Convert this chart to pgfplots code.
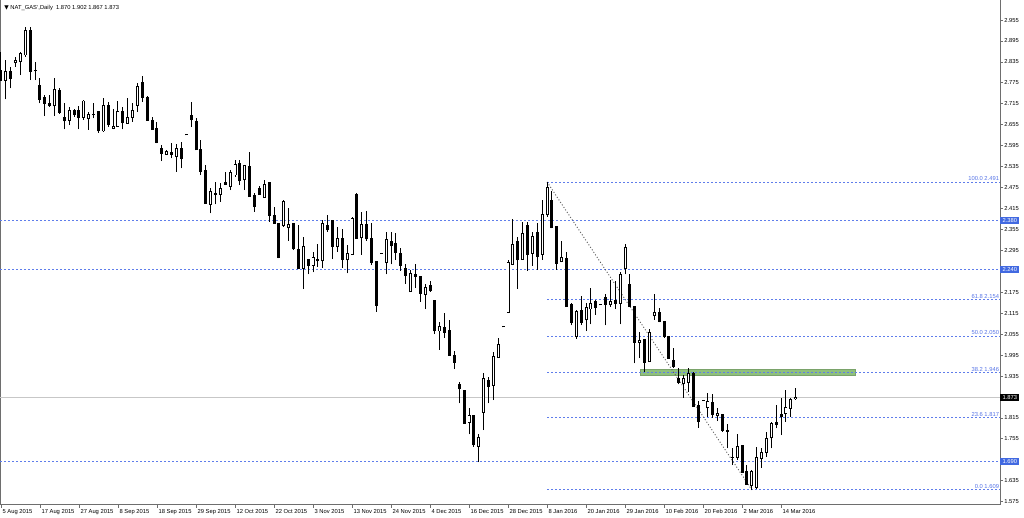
\documentclass[border=0pt]{standalone}
\usepackage{fontspec}
\setmainfont{Liberation Sans}
\newfontfamily\dejavu{DejaVu Sans}
\usepackage{pgfplots}
\usepackage{pgfplotstable}
\pgfplotsset{compat=1.18}

\definecolor{lvl}{RGB}{95,125,235}
\definecolor{fibtxt}{RGB}{85,115,230}
\definecolor{lvlbox}{RGB}{65,105,225}
\definecolor{zone}{RGB}{143,192,125}
\definecolor{frame}{RGB}{110,110,110}
\newcommand\mtfont{\fontsize{2.9}{3.2}\selectfont}

% daily candles: bar index, open, high, low, close
\pgfplotstableread{
i O H L C
0 2.812 2.864 2.780 2.783
1 2.783 2.840 2.728 2.807
2 2.807 2.821 2.759 2.788
3 2.833 2.850 2.821 2.838
4 2.836 2.864 2.797 2.859
5 2.855 2.936 2.850 2.926
6 2.926 2.936 2.783 2.807
7 2.812 2.836 2.783 2.809
8 2.769 2.788 2.716 2.728
9 2.732 2.740 2.680 2.716
10 2.716 2.740 2.707 2.710
11 2.709 2.788 2.680 2.756
12 2.754 2.759 2.686 2.690
13 2.676 2.716 2.642 2.666
14 2.668 2.707 2.654 2.695
15 2.695 2.699 2.678 2.685
16 2.695 2.709 2.642 2.675
17 2.676 2.726 2.670 2.723
18 2.673 2.692 2.640 2.685
19 2.684 2.716 2.673 2.685
20 2.692 2.692 2.632 2.637
21 2.637 2.733 2.635 2.710
22 2.709 2.721 2.649 2.656
23 2.645 2.699 2.642 2.651
24 2.651 2.723 2.649 2.694
25 2.694 2.705 2.642 2.661
26 2.659 2.733 2.659 2.676
27 2.675 2.716 2.664 2.695
28 2.711 2.775 2.692 2.764
29 2.775 2.795 2.721 2.733
30 2.733 2.737 2.668 2.668
31 2.668 2.676 2.640 2.642
32 2.645 2.664 2.602 2.604
33 2.586 2.597 2.551 2.573
34 2.571 2.583 2.568 2.578
35 2.576 2.602 2.559 2.570
36 2.564 2.599 2.521 2.586
37 2.586 2.607 2.530 2.557
38 2.626 2.626 2.626 2.626
39 2.683 2.721 2.648 2.669
40 2.664 2.673 2.583 2.583
41 2.585 2.611 2.511 2.521
42 2.523 2.540 2.430 2.430
43 2.427 2.473 2.401 2.465
44 2.458 2.490 2.427 2.455
45 2.456 2.487 2.435 2.473
46 2.490 2.519 2.482 2.484
47 2.478 2.526 2.468 2.519
48 2.511 2.554 2.506 2.541
49 2.544 2.554 2.482 2.494
50 2.497 2.540 2.468 2.538
51 2.535 2.578 2.449 2.449
52 2.452 2.459 2.406 2.420
53 2.473 2.480 2.454 2.456
54 2.446 2.497 2.446 2.484
55 2.490 2.490 2.377 2.395
56 2.395 2.418 2.373 2.373
57 2.373 2.373 2.272 2.274
58 2.366 2.439 2.363 2.435
59 2.360 2.416 2.322 2.368
60 2.373 2.373 2.296 2.299
61 2.299 2.368 2.244 2.244
62 2.244 2.334 2.184 2.306
63 2.270 2.270 2.226 2.253
64 2.253 2.290 2.232 2.274
65 2.270 2.312 2.248 2.265
66 2.265 2.382 2.246 2.373
67 2.366 2.395 2.349 2.354
68 2.382 2.382 2.270 2.306
69 2.306 2.363 2.291 2.328
70 2.328 2.356 2.246 2.270
71 2.268 2.310 2.229 2.287
72 2.284 2.392 2.282 2.387
73 2.456 2.459 2.330 2.330
74 2.331 2.406 2.282 2.368
75 2.370 2.408 2.322 2.328
76 2.328 2.373 2.253 2.261
77 2.263 2.265 2.119 2.137
78 2.287 2.287 2.287 2.287
79 2.261 2.349 2.226 2.325
80 2.322 2.347 2.255 2.308
81 2.315 2.344 2.268 2.290
82 2.287 2.301 2.236 2.253
83 2.244 2.255 2.200 2.223
84 2.177 2.239 2.177 2.229
85 2.226 2.255 2.188 2.220
86 2.220 2.220 2.148 2.172
87 2.169 2.198 2.127 2.188
88 2.194 2.207 2.177 2.179
89 2.153 2.153 2.055 2.064
90 2.064 2.091 2.010 2.077
91 2.074 2.115 2.045 2.060
92 2.067 2.096 1.993 1.995
93 1.995 2.007 1.955 1.974
94 1.911 1.919 1.857 1.898
95 1.895 1.895 1.800 1.800
96 1.802 1.843 1.768 1.822
97 1.823 1.823 1.733 1.738
98 1.733 1.768 1.688 1.759
99 1.831 1.943 1.780 1.929
100 1.921 1.933 1.857 1.905
101 1.909 2.005 1.866 1.991
102 1.988 2.045 1.986 2.026
103 2.076 2.076 2.076 2.076
104 2.118 2.268 2.115 2.261
105 2.255 2.385 2.255 2.312
106 2.320 2.334 2.185 2.268
107 2.270 2.376 2.268 2.344
108 2.366 2.376 2.236 2.284
109 2.287 2.347 2.251 2.334
110 2.347 2.373 2.239 2.277
111 2.284 2.440 2.268 2.397
112 2.397 2.491 2.392 2.475
113 2.437 2.465 2.358 2.360
114 2.363 2.363 2.239 2.258
115 2.263 2.322 2.261 2.274
116 2.272 2.291 2.134 2.134
117 2.141 2.143 2.080 2.089
118 2.048 2.124 2.041 2.121
119 2.124 2.165 2.081 2.089
120 2.096 2.143 2.064 2.131
121 2.127 2.186 2.083 2.143
122 2.150 2.153 2.110 2.131
123 2.139 2.139 2.139 2.139
124 2.160 2.169 2.080 2.141
125 2.139 2.210 2.134 2.148
126 2.153 2.207 2.127 2.143
127 2.143 2.232 2.083 2.225
128 2.242 2.312 2.226 2.303
129 2.196 2.226 2.134 2.134
130 2.134 2.134 1.971 2.032
131 2.032 2.062 1.986 2.037
132 2.041 2.041 1.948 1.974
133 1.976 2.070 1.976 2.060
134 2.108 2.169 2.096 2.118
135 2.118 2.131 2.089 2.091
136 2.091 2.091 2.045 2.048
137 2.048 2.048 1.984 1.986
138 1.981 2.014 1.959 1.962
139 1.928 1.957 1.911 1.917
140 1.914 1.938 1.873 1.927
141 1.917 1.957 1.890 1.943
142 1.943 1.948 1.847 1.847
143 1.850 1.864 1.787 1.804
144 1.866 1.867 1.865 1.866
145 1.844 1.885 1.819 1.862
146 1.860 1.883 1.816 1.825
147 1.821 1.844 1.806 1.828
148 1.825 1.825 1.776 1.780
149 1.778 1.799 1.728 1.776
150 1.701 1.728 1.680 1.701
151 1.701 1.768 1.694 1.733
152 1.736 1.736 1.659 1.659
153 1.661 1.680 1.623 1.625
154 1.621 1.666 1.609 1.661
155 1.615 1.733 1.612 1.701
156 1.699 1.730 1.672 1.716
157 1.716 1.776 1.704 1.756
158 1.758 1.804 1.728 1.799
159 1.802 1.852 1.785 1.797
160 1.825 1.871 1.766 1.819
161 1.828 1.895 1.804 1.844
162 1.842 1.873 1.819 1.869
163 1.870 1.902 1.867 1.873
}\candles

\begin{document}
\begin{tikzpicture}
\begin{axis}[
  name=ax,
  width=500pt, height=252.5pt, scale only axis,
  xmin=-0.2, xmax=204.9, ymin=1.5655, ymax=3.0125,
  clip mode=individual,
  axis line style={frame, line width=0.5pt},
  xtick pos=left, ytick pos=right, yticklabel pos=right,
  tick align=outside, major tick length=1.5pt,
  tick style={frame, line width=0.4pt},
  xtick={0,8,...,160},
  xticklabels={5 Aug 2015, 17 Aug 2015, 27 Aug 2015, 8 Sep 2015, 18 Sep 2015, 29 Sep 2015, 12 Oct 2015, 22 Oct 2015, 3 Nov 2015, 13 Nov 2015, 24 Nov 2015, 4 Dec 2015, 16 Dec 2015, 28 Dec 2015, 8 Jan 2016, 20 Jan 2016, 29 Jan 2016, 10 Feb 2016, 20 Feb 2016, 2 Mar 2016, 14 Mar 2016},
  ytick={1.575,1.635,1.755,1.815,1.935,1.995,2.055,2.115,2.175,2.295,2.355,2.415,2.475,2.535,2.595,2.655,2.715,2.775,2.835,2.895,2.955},
  xticklabel style={font=\mtfont, anchor=north west, inner sep=0.4pt, xshift=0.2pt},
  yticklabel style={font=\mtfont, anchor=west, inner sep=0.5pt,
    /pgf/number format/.cd, fixed, fixed zerofill, precision=3, assume math mode=true},
  candle/.style={draw=none, mark=none,
    error bars/y dir=plus, error bars/y explicit, error bars/error mark=none},
  level/.style={lvl, line width=0.4pt, dash pattern=on 1pt off 1pt},
]

% background objects
\addplot[fill=zone, draw=zone!85!black, line width=0.25pt] coordinates {(131.1,1.936) (175.2,1.936) (175.2,1.954) (131.1,1.954)} --cycle;
\addplot[black!22, line width=0.5pt] coordinates {(-0.2,1.873) (204.9,1.873)};

% horizontal levels
\addplot[level] coordinates {(-0.2,2.380) (204.9,2.380)};
\addplot[level] coordinates {(-0.2,2.240) (204.9,2.240)};
\addplot[level] coordinates {(-0.2,1.690) (204.9,1.690)};

% fibonacci levels
\addplot[level] coordinates {(112,2.491) (204.9,2.491)};
\addplot[level] coordinates {(112,2.154) (204.9,2.154)};
\addplot[level] coordinates {(112,2.050) (204.9,2.050)};
\addplot[level] coordinates {(112,1.946) (204.9,1.946)};
\addplot[level] coordinates {(112,1.817) (204.9,1.817)};
\addplot[level] coordinates {(112,1.609) (204.9,1.609)};
\addplot[black!65, line width=0.45pt, dash pattern=on 0.5pt off 1pt] coordinates {(112,2.491) (154,1.609)};

% wicks
\addplot[candle, error bars/error bar style={draw=black, solid, line width=0.5pt}]
  table[x=i, y=L, y error plus expr={\thisrow{H}-\thisrow{L}}] {\candles};
% bodies
\addplot[candle, error bars/error bar style={draw=black, solid, line width=1.5pt}]
  table[x=i, y expr={min(\thisrow{O},\thisrow{C})-0.0013},
        y error plus expr={abs(\thisrow{C}-\thisrow{O})+0.0026}] {\candles};
% hollow inside of rising candles
\addplot[candle, restrict expr to domain={\thisrow{C}-\thisrow{O}}{0.003:1},
  error bars/error bar style={draw=white, solid, line width=0.55pt}]
  table[x=i, y expr={\thisrow{O}+0.0013},
        y error plus expr={\thisrow{C}-\thisrow{O}-0.0026}] {\candles};

% level labels
\begin{scope}[every node/.style={font=\mtfont, text=fibtxt, inner sep=0.3pt, anchor=south east}]
\node at (axis cs:204.9,2.491) {100.0 2.491};
\node at (axis cs:204.9,2.154) {61.8 2.154};
\node at (axis cs:204.9,2.050) {50.0 2.050};
\node at (axis cs:204.9,1.946) {38.2 1.946};
\node at (axis cs:204.9,1.817) {23.6 1.817};
\node at (axis cs:204.9,1.609) {0.0 1.609};
\end{scope}
\begin{scope}[every node/.style={font=\mtfont, text=white, fill=lvlbox, inner xsep=1.1pt, inner ysep=0.7pt, anchor=west}]
\node at (axis cs:204.9,2.380) {2.380};
\node at (axis cs:204.9,2.240) {2.240};
\node at (axis cs:204.9,1.690) {1.690};
\node[fill=black] at (axis cs:204.9,1.873) {1.873};
\end{scope}
\node[font=\mtfont, anchor=north west, inner sep=0pt] at (rel axis cs:0,1) [xshift=2pt, yshift=-2.5pt]
  {{\dejavu ▼} NAT\_GAS`,Daily\ \ 1.870 1.902 1.867 1.873};
\end{axis}
\pgfresetboundingbox
\path[use as bounding box] ([yshift=-6.5pt]ax.south west) rectangle ([xshift=12pt]ax.north east);
\end{tikzpicture}
\end{document}
